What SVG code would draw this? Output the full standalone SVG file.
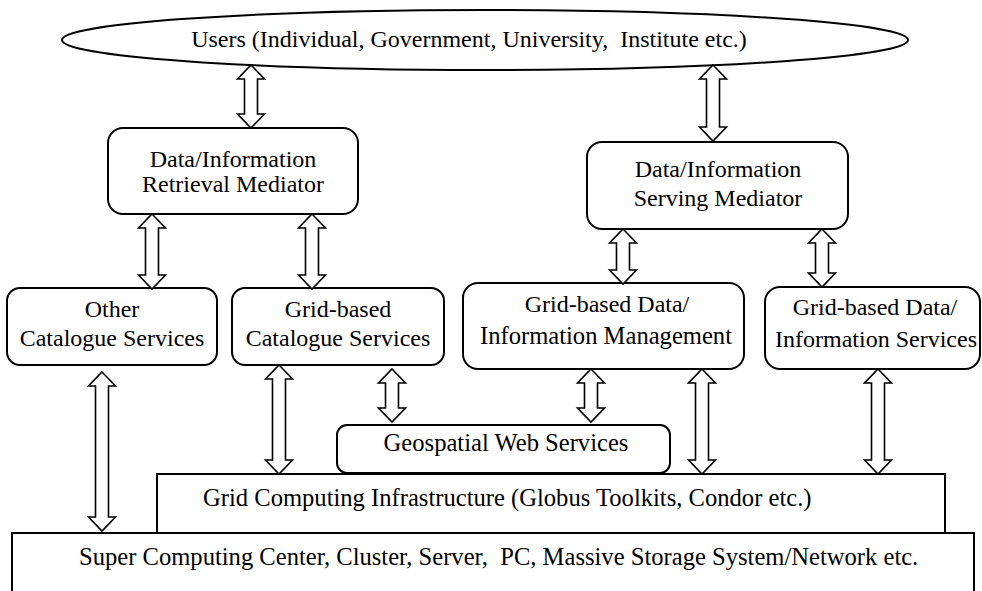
<svg xmlns="http://www.w3.org/2000/svg" width="982" height="591" viewBox="0 0 982 591">
<style>
.box{fill:#fff;stroke:#000;stroke-width:2}
.arr{fill:#fff;stroke:#000;stroke-width:1.6;stroke-linejoin:miter}
text{font-family:"Liberation Serif","Times New Roman",serif;font-size:24px;fill:#000}
.c{text-anchor:middle}
.w{font-size:24.6px}
</style>
<rect width="982" height="591" fill="#fff"/>
<g id="users">
<ellipse class="box" cx="485" cy="40" rx="423" ry="30"/>
<text class="c" x="469" y="47" xml:space="preserve">Users (Individual, Government, University,  Institute etc.)</text>
</g>
<g id="retrieval">
<rect class="box" x="108" y="128" width="250" height="86" rx="15"/>
<text class="c" x="233" y="167">Data/Information</text>
<text class="c" x="233" y="192">Retrieval Mediator</text>
</g>
<g id="serving">
<rect class="box" x="587" y="142" width="261" height="87" rx="15"/>
<text class="c" x="718" y="177">Data/Information</text>
<text class="c" x="718" y="206">Serving Mediator</text>
</g>
<g id="other">
<rect class="box" x="7" y="288" width="210" height="77" rx="13"/>
<text class="c" x="112" y="317">Other</text>
<text class="c" x="112" y="346">Catalogue Services</text>
</g>
<g id="gridcat">
<rect class="box" x="232" y="288" width="212" height="77" rx="13"/>
<text class="c" x="338" y="317">Grid-based</text>
<text class="c" x="338" y="346">Catalogue Services</text>
</g>
<g id="mgmt">
<rect class="box" x="463" y="283" width="281" height="86" rx="15"/>
<text class="c" x="607" y="312">Grid-based Data/</text>
<text class="c w" x="606" y="344">Information Management</text>
</g>
<g id="services">
<rect class="box" x="765" y="287" width="215" height="82" rx="15"/>
<text class="c" x="875" y="315">Grid-based Data/</text>
<text class="c" x="876" y="347">Information Services</text>
</g>
<g id="geospatial">
<rect class="box" x="337" y="425" width="333" height="48" rx="10"/>
<text class="c w" x="506" y="451">Geospatial Web Services</text>
</g>
<g id="infra">
<rect class="box" x="157" y="474" width="788" height="59"/>
<text class="w" x="203" y="506">Grid Computing Infrastructure (Globus Toolkits, Condor etc.)</text>
</g>
<g id="super">
<rect class="box" x="12" y="533" width="962" height="62"/>
<text class="w" x="79" y="565" xml:space="preserve">Super Computing Center, Cluster, Server,  PC, Massive Storage System/Network etc.</text>
</g>
<g id="connectors">
<path class="arr" d="M251,65 L264.5,79 L257.5,79 L257.5,114 L264.5,114 L251,128 L237.5,114 L244.5,114 L244.5,79 L237.5,79 Z"/>
<path class="arr" d="M713,65 L726.5,79 L719.5,79 L719.5,127 L726.5,127 L713,141 L699.5,127 L706.5,127 L706.5,79 L699.5,79 Z"/>
<path class="arr" d="M152,214 L165.5,228 L158.5,228 L158.5,275 L165.5,275 L152,289 L138.5,275 L145.5,275 L145.5,228 L138.5,228 Z"/>
<path class="arr" d="M312,214 L325.5,228 L318.5,228 L318.5,275 L325.5,275 L312,289 L298.5,275 L305.5,275 L305.5,228 L298.5,228 Z"/>
<path class="arr" d="M623,229 L636.5,243 L629.5,243 L629.5,270 L636.5,270 L623,284 L609.5,270 L616.5,270 L616.5,243 L609.5,243 Z"/>
<path class="arr" d="M822,229 L835.5,243 L828.5,243 L828.5,273 L835.5,273 L822,287 L808.5,273 L815.5,273 L815.5,243 L808.5,243 Z"/>
<path class="arr" d="M102,372 L115.5,386 L108.5,386 L108.5,517 L115.5,517 L102,531 L88.5,517 L95.5,517 L95.5,386 L88.5,386 Z"/>
<path class="arr" d="M279,365 L292.5,379 L285.5,379 L285.5,460 L292.5,460 L279,474 L265.5,460 L272.5,460 L272.5,379 L265.5,379 Z"/>
<path class="arr" d="M392,369 L405.5,383 L398.5,383 L398.5,408 L405.5,408 L392,422 L378.5,408 L385.5,408 L385.5,383 L378.5,383 Z"/>
<path class="arr" d="M591,369 L604.5,383 L597.5,383 L597.5,408 L604.5,408 L591,422 L577.5,408 L584.5,408 L584.5,383 L577.5,383 Z"/>
<path class="arr" d="M702,369 L715.5,383 L708.5,383 L708.5,460 L715.5,460 L702,474 L688.5,460 L695.5,460 L695.5,383 L688.5,383 Z"/>
<path class="arr" d="M878,369 L891.5,383 L884.5,383 L884.5,460 L891.5,460 L878,474 L864.5,460 L871.5,460 L871.5,383 L864.5,383 Z"/>
</g>
</svg>
